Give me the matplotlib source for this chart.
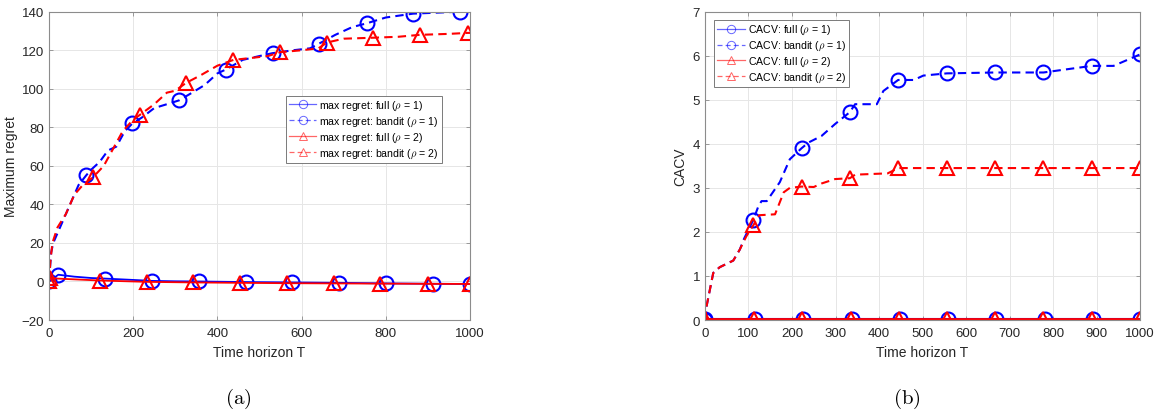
import numpy as np
import matplotlib
matplotlib.use("Agg")
import matplotlib.pyplot as plt
from matplotlib.lines import Line2D

plt.rcParams['font.family'] = ['Liberation Sans', 'DejaVu Sans']
plt.rcParams['mathtext.fontset'] = 'cm'

# ---------------- data: (a) maximum regret ----------------
reg_full1_x = [0, 22, 60, 100, 133, 200, 244, 300, 356, 467, 578, 689, 801, 913, 1000]
reg_full1_y = [0, 3.5, 2.5, 1.8, 1.5, 0.8, 0.3, 0.1, 0, -0.3, -0.5, -0.7, -1.0, -1.2, -1.3]
reg_full1_mk = [0, 22, 133, 244, 356, 467, 578, 689, 801, 913, 1000]

reg_band1_x = [0, 5, 10, 30, 50, 70, 88, 100, 120, 140, 160, 180, 198, 220, 250, 280, 309,
               340, 370, 400, 420, 460, 500, 531, 580, 620, 642, 680, 720, 755, 800, 865,
               920, 976, 1000]
reg_band1_y = [0, 15, 20, 30, 40, 50, 55, 58, 62, 68, 70, 78, 82, 85, 90, 92, 94,
               98, 102, 108, 110, 115, 117, 118.5, 120, 121, 123.5, 128, 132, 134, 137, 139,
               139.5, 140, 140]
reg_band1_mk = [88, 198, 309, 420, 531, 642, 755, 865, 976]

reg_full2_x = [0, 2, 20, 121, 232, 343, 454, 565, 676, 786, 899, 1000]
reg_full2_y = [0, 2, 1.5, 0.5, -0.2, -0.5, -0.7, -0.9, -1.0, -1.1, -1.2, -1.3]
reg_full2_mk = [0, 2, 121, 232, 343, 454, 565, 676, 786, 899, 1000]

reg_band2_x = [0, 3, 8, 20, 40, 60, 80, 104, 130, 150, 175, 200, 216, 250, 280, 300, 325,
               360, 400, 438, 480, 520, 549, 600, 640, 660, 700, 770, 830, 881, 950, 994, 1000]
reg_band2_y = [0, 10, 20, 28, 35, 45, 50, 54, 60, 68, 78, 84, 86.5, 92, 98, 99, 103,
               107, 112, 115, 116, 117, 119, 120, 121, 124, 126, 126.5, 127, 128, 128.5, 129, 129]
reg_band2_mk = [104, 216, 325, 438, 549, 660, 770, 881, 994]

# ---------------- data: (b) CACV ----------------
cv_full1_x = [0, 115, 226, 337, 448, 559, 670, 782, 893, 1000]
cv_full1_y = [0.02] * 10
cv_full2_x = [0, 113, 224, 335, 446, 557, 667, 778, 889, 1000]
cv_full2_y = [0.02] * 10

cv_band1_x = [0, 4, 19, 34, 65, 80, 90, 111, 123, 130, 142, 172, 195, 222, 238, 268, 299,
              333, 345, 395, 410, 444, 480, 502, 556, 667, 778, 889, 939, 1000]
cv_band1_y = [0, 0.33, 1.07, 1.2, 1.35, 1.6, 1.85, 2.27, 2.59, 2.7, 2.7, 3.13, 3.65, 3.9,
              4.03, 4.18, 4.45, 4.72, 4.9, 4.9, 5.2, 5.45, 5.45, 5.55, 5.6, 5.62, 5.62,
              5.77, 5.77, 6.03]
cv_band1_mk = [0, 111, 222, 333, 444, 556, 667, 778, 889, 1000]

cv_band2_x = [0, 4, 19, 34, 65, 80, 95, 111, 125, 161, 181, 195, 222, 250, 268, 299, 333,
              345, 420, 444, 556, 667, 778, 889, 1000]
cv_band2_y = [0, 0.33, 1.07, 1.2, 1.35, 1.6, 1.9, 2.15, 2.38, 2.4, 2.9, 3.0, 3.03, 3.02,
              3.1, 3.2, 3.22, 3.3, 3.33, 3.45, 3.45, 3.45, 3.45, 3.45, 3.45]
cv_band2_mk = [0, 111, 222, 333, 444, 556, 667, 778, 889, 1000]

BLUE = '#0000ff'
RED = '#ff0000'
DASH = (0, (4, 2.5))


def mk_idx(xs, marks):
    return [xs.index(m) for m in marks]


def style_axes(ax):
    ax.grid(True, color='#e6e6e6', linewidth=0.7)
    ax.set_axisbelow(True)
    for s in ax.spines.values():
        s.set_color('#8c8c8c')
        s.set_linewidth(0.8)
    ax.tick_params(direction='in', length=3, width=0.6, color='#8c8c8c',
                   labelsize=9.5, labelcolor='#262626', top=True, right=True)
    ax.tick_params(axis='x', pad=5)
    ax.tick_params(axis='y', pad=3.5)


def legend_handles(prefix):
    kw = dict(markersize=6, markerfacecolor='none', markeredgewidth=0.7, alpha=0.6, lw=0.9)
    return [
        Line2D([], [], color=BLUE, marker='o', ls='-', **kw),
        Line2D([], [], color=BLUE, marker='o', ls=DASH, **kw),
        Line2D([], [], color=RED, marker='^', ls='-', **kw),
        Line2D([], [], color=RED, marker='^', ls=DASH, **kw),
    ], [prefix + r'full ($\rho$ = 1)', prefix + r'bandit ($\rho$ = 1)',
        prefix + r'full ($\rho$ = 2)', prefix + r'bandit ($\rho$ = 2)']


fig = plt.figure(figsize=(11.62, 4.14), dpi=100)
ax1 = fig.add_axes([0.0422, 0.2246, 0.3623, 0.7447])
ax2 = fig.add_axes([0.6067, 0.2246, 0.3744, 0.7447])

mkw = dict(markersize=10, markerfacecolor='none', markeredgewidth=1.5)

# (a)
ax1.plot(reg_full1_x, reg_full1_y, color=BLUE, ls='-', lw=1.3, marker='o',
         markevery=mk_idx(reg_full1_x, reg_full1_mk), **mkw)
ax1.plot(reg_band1_x, reg_band1_y, color=BLUE, ls=DASH, lw=1.5, marker='o',
         markevery=mk_idx(reg_band1_x, reg_band1_mk), **mkw)
ax1.plot(reg_full2_x, reg_full2_y, color=RED, ls='-', lw=1.3, marker='^',
         markevery=mk_idx(reg_full2_x, reg_full2_mk), **mkw)
ax1.plot(reg_band2_x, reg_band2_y, color=RED, ls=DASH, lw=1.5, marker='^',
         markevery=mk_idx(reg_band2_x, reg_band2_mk), **mkw)
ax1.set_xlim(0, 1000)
ax1.set_ylim(-20, 140)
ax1.set_xticks(np.arange(0, 1001, 200))
ax1.set_yticks(np.arange(-20, 141, 20))
style_axes(ax1)
ax1.set_xlabel('Time horizon T', fontsize=10, color='#262626', labelpad=4)
ax1.set_ylabel('Maximum regret', fontsize=10, color='#262626', labelpad=3)
h, l = legend_handles('max regret: ')
lg = ax1.legend(h, l, loc='upper left', bbox_to_anchor=(0.562, 0.7275), fontsize=7.6,
                frameon=True, fancybox=False, edgecolor='#7a7a7a', framealpha=1,
                borderpad=0.3, labelspacing=0.25, handlelength=2.6, handletextpad=0.3,
                borderaxespad=0)
lg.get_frame().set_linewidth(0.7)

# (b)
ax2.plot(cv_full1_x, cv_full1_y, color=BLUE, ls='-', lw=1.5, marker='o', **mkw)
ax2.plot(cv_band1_x, cv_band1_y, color=BLUE, ls=DASH, lw=1.5, marker='o',
         markevery=mk_idx(cv_band1_x, cv_band1_mk), **mkw)
ax2.plot(cv_full2_x, cv_full2_y, color=RED, ls='-', lw=2.0, marker='^', **mkw)
ax2.plot(cv_band2_x, cv_band2_y, color=RED, ls=DASH, lw=1.5, marker='^',
         markevery=mk_idx(cv_band2_x, cv_band2_mk), **mkw)
ax2.set_xlim(0, 1000)
ax2.set_ylim(0, 7)
ax2.set_xticks(np.arange(0, 1001, 100))
ax2.set_yticks(np.arange(0, 8, 1))
style_axes(ax2)
ax2.set_xlabel('Time horizon T', fontsize=10, color='#262626', labelpad=4)
ax2.set_ylabel('CACV', fontsize=10, color='#262626', labelpad=4)
h, l = legend_handles('CACV: ')
lg = ax2.legend(h, l, loc='upper left', bbox_to_anchor=(0.0207, 0.973), fontsize=7.6,
                frameon=True, fancybox=False, edgecolor='#7a7a7a', framealpha=1,
                borderpad=0.3, labelspacing=0.25, handlelength=2.6, handletextpad=0.3,
                borderaxespad=0)
lg.get_frame().set_linewidth(0.7)

fig.text(0.205, 0.036, r'$\mathrm{(a)}$', fontsize=15, ha='center', va='center')
fig.text(0.78, 0.036, r'$\mathrm{(b)}$', fontsize=15, ha='center', va='center')

fig.savefig('out.png', dpi=100)
